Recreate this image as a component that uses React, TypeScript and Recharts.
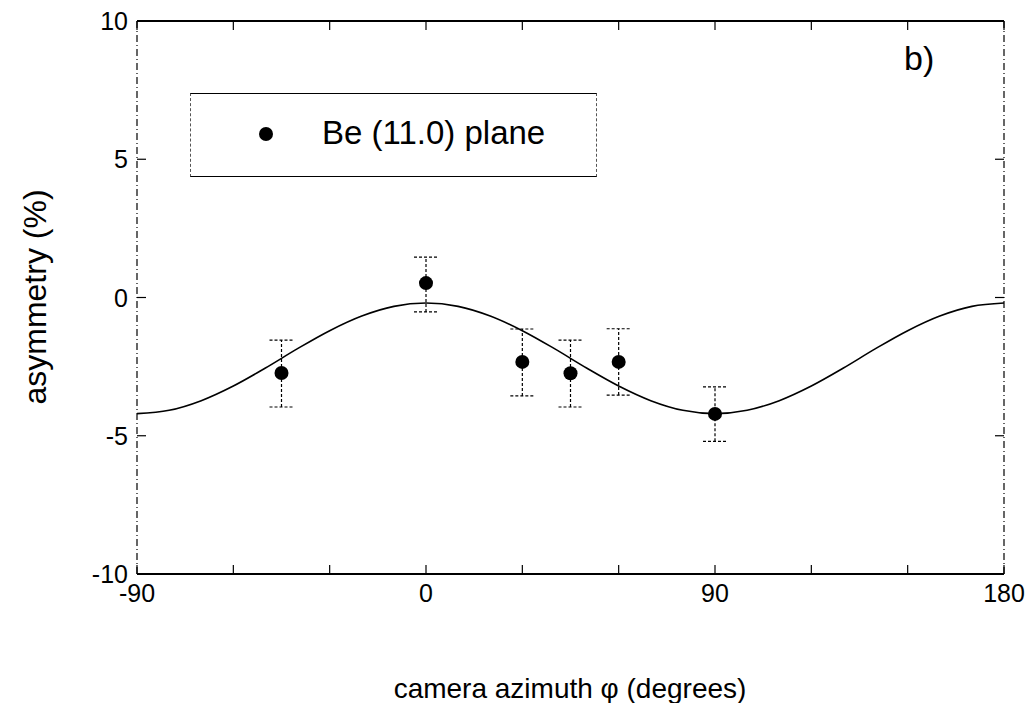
import {
  ComposedChart,
  Line,
  Scatter,
  ErrorBar,
  XAxis,
  YAxis,
} from "recharts";

// measured points (camera azimuth in degrees, asymmetry in %)
const pointAngles = [-45, 0, 30, 45, 60, 90];
const pointValues = [-2.73, 0.52, -2.33, -2.74, -2.33, -4.21];
const errLow = [1.23, 1.04, 1.23, 1.22, 1.2, 0.99];
const errHigh = [1.19, 0.94, 1.19, 1.2, 1.2, 0.98];

// fitted curve
const fitAngles = [
  -90, -80, -70, -60, -50, -40, -30, -20, -10, 0, 10, 20, 30, 40, 50, 60, 70,
  80, 90, 100, 110, 120, 130, 140, 150, 160, 170, 180,
];
const fitValues = [
  -4.2, -4.08, -3.73, -3.2, -2.55, -1.85, -1.2, -0.67, -0.32, -0.2, -0.32,
  -0.67, -1.2, -1.85, -2.55, -3.2, -3.73, -4.08, -4.2, -4.08, -3.73, -3.2,
  -2.55, -1.85, -1.2, -0.67, -0.32, -0.2,
];

const xTicks = [-90, -60, -30, 0, 30, 60, 90, 120, 150, 180];
const xLabels = [-90, 0, 90, 180];
const yTicks = [-10, -5, 0, 5, 10];

const FONT = '"Liberation Sans", Arial, Helvetica, sans-serif';
const TICK_LEN = 9;

const points = pointAngles.map((a, i) => ({
  phi: a,
  asym: pointValues[i],
  err: [errLow[i], errHigh[i]],
}));

const fit = fitAngles.map((a, i) => ({ phi: a, asym: fitValues[i] }));

type TickProps = { x?: number; y?: number; payload?: { value: number } };

function BottomTick({ x = 0, y = 0, payload }: TickProps) {
  const v = payload?.value ?? 0;
  return (
    <g>
      <line x1={x} y1={y} x2={x} y2={y - TICK_LEN} stroke="#000" strokeWidth={1.2} />
      {xLabels.includes(v) && (
        <text x={x} y={y + 28} textAnchor="middle" fontSize={25} fill="#000">
          {v}
        </text>
      )}
    </g>
  );
}

function TopTick({ x = 0, y = 0 }: TickProps) {
  return <line x1={x} y1={y} x2={x} y2={y + TICK_LEN} stroke="#000" strokeWidth={1.2} />;
}

function LeftTick({ x = 0, y = 0, payload }: TickProps) {
  return (
    <g>
      <line x1={x} y1={y} x2={x + TICK_LEN} y2={y} stroke="#000" strokeWidth={1.2} />
      <text x={x - 9} y={y + 9} textAnchor="end" fontSize={25} fill="#000">
        {payload?.value}
      </text>
    </g>
  );
}

function RightTick({ x = 0, y = 0 }: TickProps) {
  return <line x1={x} y1={y} x2={x - TICK_LEN} y2={y} stroke="#000" strokeWidth={1.2} />;
}

export default function App() {
  return (
    <div
      style={{
        position: "relative",
        width: 1017,
        height: 695,
        fontFamily: FONT,
        color: "#000",
        background: "#fff",
      }}
    >
      <ComposedChart
        width={1017}
        height={695}
        margin={{ top: 12, right: 20, bottom: 89, left: 59 }}
      >
        <XAxis
          xAxisId="b"
          dataKey="phi"
          type="number"
          domain={[-90, 180]}
          ticks={xTicks}
          height={40}
          tickSize={0}
          tickMargin={0}
          tickLine={false}
          tick={<BottomTick />}
          axisLine={{ stroke: "#000", strokeWidth: 2 }}
          allowDataOverflow
        />
        <XAxis
          xAxisId="t"
          orientation="top"
          dataKey="phi"
          type="number"
          domain={[-90, 180]}
          ticks={xTicks}
          height={1}
          tickSize={0}
          tickMargin={0}
          tickLine={false}
          tick={<TopTick />}
          axisLine={{ stroke: "#000", strokeWidth: 2 }}
          allowDataOverflow
        />
        <YAxis
          yAxisId="l"
          type="number"
          domain={[-10, 10]}
          ticks={yTicks}
          width={70}
          tickSize={0}
          tickMargin={0}
          tickLine={false}
          tick={<LeftTick />}
          axisLine={{ stroke: "#000", strokeWidth: 1.2, strokeDasharray: "7 3 1 3" }}
          allowDataOverflow
        />
        <YAxis
          yAxisId="r"
          orientation="right"
          type="number"
          domain={[-10, 10]}
          ticks={yTicks}
          width={1}
          tickSize={0}
          tickMargin={0}
          tickLine={false}
          tick={<RightTick />}
          axisLine={{ stroke: "#000", strokeWidth: 1.2, strokeDasharray: "7 3 1 3" }}
          allowDataOverflow
        />
        <Line
          xAxisId="b"
          yAxisId="l"
          data={fit}
          dataKey="asym"
          type="monotone"
          stroke="#000"
          strokeWidth={1.6}
          dot={false}
          activeDot={false}
          isAnimationActive={false}
        />
        <Scatter
          xAxisId="b"
          yAxisId="l"
          data={points}
          dataKey="asym"
          fill="#000"
          isAnimationActive={false}
          shape={(p: { cx?: number; cy?: number }) => (
            <circle cx={p.cx} cy={p.cy} r={7} fill="#000" />
          )}
        >
          <ErrorBar
            dataKey="err"
            direction="y"
            width={12}
            stroke="#000"
            strokeWidth={1.2}
            strokeDasharray="3 2"
          />
        </Scatter>
      </ComposedChart>

      {/* legend box */}
      <div
        style={{
          position: "absolute",
          left: 182,
          top: 85,
          width: 407,
          height: 84,
          borderTop: "1.5px solid #000",
          borderBottom: "1.5px solid #000",
          borderLeft: "1px dashed #555",
          borderRight: "1px dashed #555",
          boxSizing: "border-box",
        }}
      >
        <svg width={30} height={30} style={{ position: "absolute", left: 60, top: 25 }}>
          <circle cx={15} cy={15} r={7} fill="#000" />
        </svg>
        <div
          style={{
            position: "absolute",
            left: 131,
            top: 19,
            fontSize: 33,
            lineHeight: "40px",
            whiteSpace: "nowrap",
          }}
        >
          Be (11.0) plane
        </div>
      </div>

      <div
        style={{
          position: "absolute",
          left: 896,
          top: 30,
          fontSize: 34,
          lineHeight: "40px",
        }}
      >
        b)
      </div>

      {/* axis titles */}
      <div
        style={{
          position: "absolute",
          left: 27 - 150,
          top: 289 - 20,
          width: 300,
          height: 40,
          lineHeight: "40px",
          textAlign: "center",
          fontSize: 32,
          transform: "rotate(-90deg)",
          whiteSpace: "nowrap",
        }}
      >
        asymmetry (%)
      </div>
      <div
        style={{
          position: "absolute",
          left: 562 - 300,
          top: 663,
          width: 600,
          textAlign: "center",
          fontSize: 28,
          lineHeight: "36px",
          whiteSpace: "nowrap",
        }}
      >
        camera azimuth φ (degrees)
      </div>
    </div>
  );
}
